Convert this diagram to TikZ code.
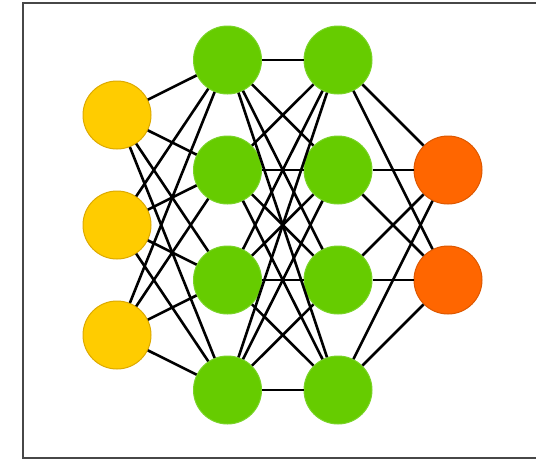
\documentclass[tikz,border=0pt]{standalone}
\begin{document}
\begin{tikzpicture}[x=1pt,y=-1pt,
  neuron/.style={circle,minimum size=68pt,inner sep=0pt,line width=1pt},
  inneuron/.style={neuron,fill=inYellow,draw=inYellowD},
  hidneuron/.style={neuron,fill=hidGreen,draw=hidGreenD},
  outneuron/.style={neuron,fill=outOrange,draw=outOrangeD},
  conn/.style={black,line width=2.6pt},
  frame/.style={draw=black!72,line width=2pt}]
\definecolor{inYellow}{HTML}{FFCC00}
\definecolor{inYellowD}{HTML}{DDAA00}
\definecolor{hidGreen}{HTML}{66CC00}
\definecolor{hidGreenD}{HTML}{7AD428}
\definecolor{outOrange}{HTML}{FF6600}
\definecolor{outOrangeD}{HTML}{DD5800}
\useasboundingbox (0,0) rectangle (536,459);
\fill[white] (0,0) rectangle (536,459);
\draw[frame] (540,3) -- (22.5,3) -- (22.5,457.5) -- (540,457.5);
% nodes
\foreach \i/\y in {1/115,2/225,3/335} \node[inneuron] (i\i) at (117,\y) {};
\foreach \i/\y in {1/60,2/170,3/280,4/390} \node[hidneuron] (a\i) at (227.5,\y) {};
\foreach \i/\y in {1/60,2/170,3/280,4/390} \node[hidneuron] (b\i) at (338,\y) {};
\foreach \i/\y in {1/170,2/280} \node[outneuron] (o\i) at (448,\y) {};
% connectors
\foreach \s in {1,2,3} \foreach \t in {1,2,3,4} \draw[conn] (i\s) -- (a\t);
\foreach \s in {1,2,3,4} \foreach \t in {1,2,3,4} \draw[conn] (a\s) -- (b\t);
\foreach \s in {1,2,3,4} \foreach \t in {1,2} \draw[conn] (b\s) -- (o\t);
\end{tikzpicture}
\end{document}
